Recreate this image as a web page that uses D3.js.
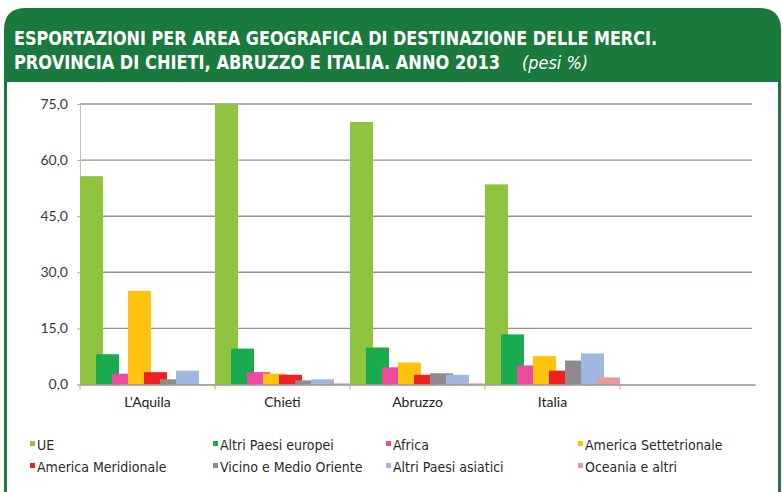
<!DOCTYPE html>
<html>
<head>
<meta charset="utf-8">
<script src="https://cdn.jsdelivr.net/npm/d3@7"></script>
<style>
  body { margin: 0; background: #fff; }
  svg { display: block; }
</style>
</head>
<body>
<div id="chart"></div>
<script>
// categories (last slot left empty, as in the original)
const categories = ["L'Aquila", "Chieti", "Abruzzo", "Italia", ""];

// series values (pesi %)
const ue            = [55.7, 75.0, 70.2, 53.5];
const altriEuropei  = [8.1, 9.6, 9.9, 13.4];
const africa        = [2.9, 3.3, 4.6, 5.1];
const americaSett   = [25.0, 2.9, 5.9, 7.6];
const americaMerid  = [3.3, 2.6, 2.6, 3.7];
const vicinoOriente = [1.4, 1.1, 3.0, 6.4];
const altriAsiatici = [3.7, 1.4, 2.6, 8.3];
const oceania       = [0.1, 0.3, 0.3, 1.9];

const seriesNames = ["UE", "Altri Paesi europei", "Africa", "America Settetrionale",
  "America Meridionale", "Vicino e Medio Oriente", "Altri Paesi asiatici", "Oceania e altri"];
const seriesValues = [ue, altriEuropei, africa, americaSett, americaMerid, vicinoOriente, altriAsiatici, oceania];
const seriesColors = ["#8fc43f", "#1aab4f", "#ec4a9c", "#ffc20f", "#ed2024", "#8d8b8b", "#9fb8df", "#e69a9c"];

const yTicks = [0, 15, 30, 45, 60, 75];

const W = 782, H = 492;
const GREEN = "#1a7a3e";

const svg = d3.select("#chart").append("svg")
  .attr("width", W).attr("height", H);

// frame: header with rounded top corners + bordered body
const r = 22, fx0 = 4, fx1 = 781, fy0 = 8, fy1 = 82;
svg.append("path")
  .attr("d", `M${fx0},${H} L${fx0},${fy0 + r} Q${fx0},${fy0} ${fx0 + r},${fy0} L${fx1 - r},${fy0} Q${fx1},${fy0} ${fx1},${fy0 + r} L${fx1},${H} Z`)
  .attr("fill", GREEN);
svg.append("rect")
  .attr("x", fx0 + 3).attr("y", fy1).attr("width", fx1 - fx0 - 6).attr("height", H - fy1)
  .attr("fill", "#fff");

// title
const titleFont = "'DejaVu Sans Condensed', 'DejaVu Sans', sans-serif";
svg.append("text").attr("x", 14).attr("y", 45)
  .attr("fill", "#fff").style("font-family", titleFont)
  .style("font-size", "19px").style("font-weight", "bold")
  .attr("textLength", 643).attr("lengthAdjust", "spacingAndGlyphs")
  .text("ESPORTAZIONI PER AREA GEOGRAFICA DI DESTINAZIONE DELLE MERCI.");
svg.append("text").attr("x", 14).attr("y", 69)
  .attr("fill", "#fff").style("font-family", titleFont)
  .style("font-size", "19px").style("font-weight", "bold")
  .attr("textLength", 486).attr("lengthAdjust", "spacingAndGlyphs")
  .text("PROVINCIA DI CHIETI, ABRUZZO E ITALIA. ANNO 2013");
svg.append("text").attr("x", 522).attr("y", 69)
  .attr("fill", "#fff").style("font-family", titleFont)
  .style("font-size", "17px").style("font-style", "italic")
  .attr("textLength", 66).attr("lengthAdjust", "spacingAndGlyphs")
  .text("(pesi %)");

// plot area
const px0 = 80, px1 = 755, py0 = 104, py1 = 384.5;
const x = d3.scaleBand().domain(d3.range(categories.length)).range([px0, px1]).padding(0);
const y = d3.scaleLinear().domain([0, 75]).range([py1, py0]);

const axisFont = "'Lato', 'DejaVu Sans', sans-serif";

// gridlines
svg.append("g").selectAll("line").data(yTicks.filter(d => d > 0)).join("line")
  .attr("x1", px0).attr("x2", px1 - 3)
  .attr("y1", d => y(d)).attr("y2", d => y(d))
  .attr("stroke", "#9c8f8a").attr("stroke-width", 1.4);

// y axis
const yAxis = svg.append("g").attr("transform", `translate(${px0},0)`)
  .call(d3.axisLeft(y).tickValues(yTicks).tickSize(3).tickPadding(9)
    .tickFormat(d => d3.format(".1f")(d).replace(".", ",")));
yAxis.select(".domain").attr("stroke", "#c8c0bc");
yAxis.selectAll(".tick line").attr("stroke", "#b0a6a2");
yAxis.selectAll("text").attr("fill", "#3a3a3a")
  .style("font-family", axisFont).style("font-size", "14px");

// bars: overlapping columns inside each band
const barW = 23, step = 16;
seriesValues.forEach((vals, si) => {
  svg.append("g").selectAll("rect").data(vals).join("rect")
    .attr("x", (d, i) => x(i) + si * step)
    .attr("y", d => y(d))
    .attr("width", barW)
    .attr("height", d => y(0) - y(d))
    .attr("fill", seriesColors[si]);
});

// x axis
const xAxis = svg.append("g").attr("transform", `translate(0,${py1})`)
  .call(d3.axisBottom(x).tickSize(0).tickPadding(13).tickFormat(i => categories[i]));
xAxis.select(".domain").attr("stroke", "#9c8f8a").attr("stroke-width", 1.4);
xAxis.selectAll("text").attr("fill", "#222")
  .style("font-family", axisFont).style("font-size", "14px");
svg.append("g").selectAll("line").data(d3.range(categories.length)).join("line")
  .attr("x1", i => x(i)).attr("x2", i => x(i))
  .attr("y1", py1).attr("y2", py1 + 5)
  .attr("stroke", "#b0a6a2");

// legend
const legendFont = "'DejaVu Sans Condensed', 'DejaVu Sans', sans-serif";
const colX = [30, 213, 386, 578], rowY = [446, 468];
const legend = svg.append("g").selectAll("g").data(seriesNames).join("g")
  .attr("transform", (d, i) => `translate(${colX[i % 4]},${rowY[Math.floor(i / 4)]})`);
legend.append("rect").attr("x", 0).attr("y", -5).attr("width", 5).attr("height", 5)
  .attr("fill", (d, i) => seriesColors[i]);
legend.append("text").attr("x", 7).attr("y", 4)
  .attr("fill", "#2a2a2a").style("font-family", legendFont).style("font-size", "14px")
  .text(d => d);
</script>
</body>
</html>
